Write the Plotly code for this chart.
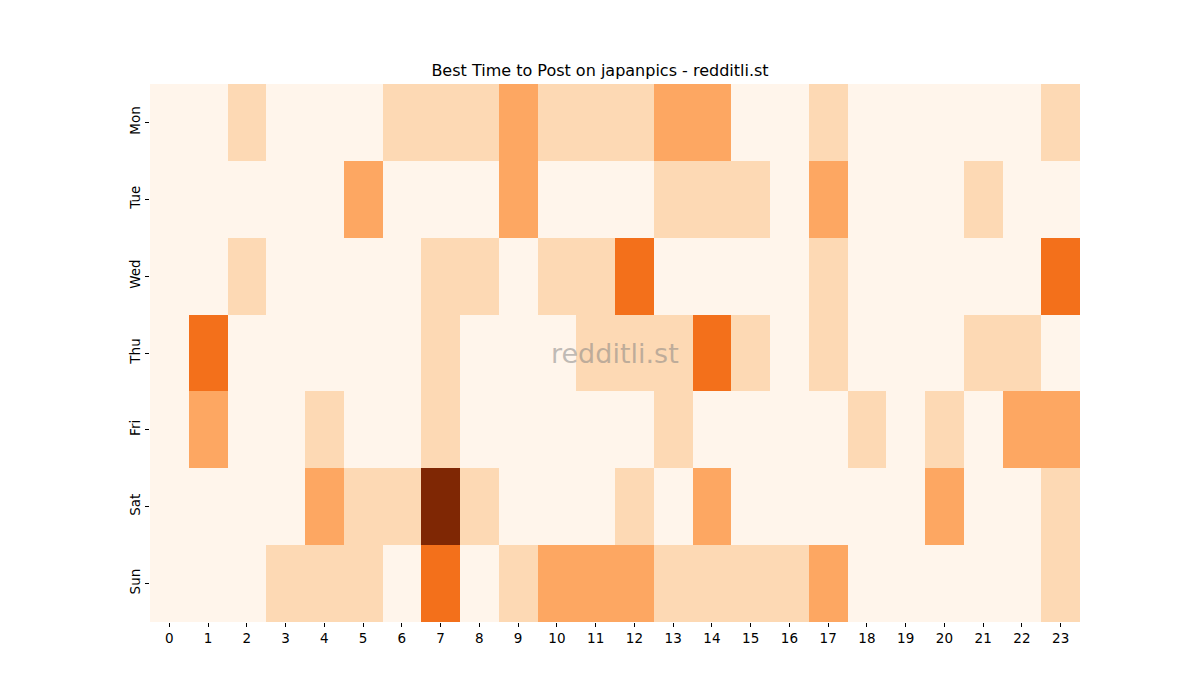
import plotly.graph_objects as go

days = ["Mon", "Tue", "Wed", "Thu", "Fri", "Sat", "Sun"]
hours = [str(h) for h in range(24)]

mon = [0,0,1,0,0,0,1,1,1,2,1,1,1,2,2,0,0,1,0,0,0,0,0,1]
tue = [0,0,0,0,0,2,0,0,0,2,0,0,0,1,1,1,0,2,0,0,0,1,0,0]
wed = [0,0,1,0,0,0,0,1,1,0,1,1,3,0,0,0,0,1,0,0,0,0,0,3]
thu = [0,3,0,0,0,0,0,1,0,0,0,1,1,1,3,1,0,1,0,0,0,1,1,0]
fri = [0,2,0,0,1,0,0,1,0,0,0,0,0,1,0,0,0,0,1,0,1,0,2,2]
sat = [0,0,0,0,2,1,1,5,1,0,0,0,1,0,2,0,0,0,0,0,2,0,0,1]
sun = [0,0,0,1,1,1,0,3,0,1,2,2,2,1,1,1,1,2,0,0,0,0,0,1]

z = [mon, tue, wed, thu, fri, sat, sun]

oranges = ["#fff5eb", "#fee6ce", "#fdd0a2", "#fdae6b", "#fd8d3c",
           "#f16913", "#d94801", "#a63603", "#7f2704"]
cs = [[i / 8, c] for i, c in enumerate(oranges)]

fig = go.Figure(go.Heatmap(
    z=z, x=list(range(24)), y=days,
    colorscale=cs, zmin=0, zmax=5, showscale=False, xgap=0, ygap=0,
))

fig.update_layout(
    width=1200, height=700,
    margin=dict(l=150, r=120, t=84, b=78),
    paper_bgcolor="white", plot_bgcolor="white",
    title=dict(text="Best Time to Post on japanpics - redditli.st",
               x=0.5, xanchor="center", y=1 - 70 / 700, yanchor="middle",
               font=dict(family="DejaVu Sans", size=16, color="black")),
    font=dict(family="DejaVu Sans", size=13.5, color="black"),
    annotations=[dict(text="redditli.st", x=0.5, y=0.5, xref="paper", yref="paper",
                      showarrow=False,
                      font=dict(family="DejaVu Sans", size=27, color="rgba(128,128,128,0.5)"))],
)
fig.update_xaxes(tickmode="array", tickvals=list(range(24)), ticktext=hours,
                 ticks="outside", ticklen=4, tickcolor="black", showgrid=False,
                 zeroline=False, showline=False, range=[-0.5, 23.5])
fig.update_yaxes(autorange="reversed", ticks="outside", ticklen=4, tickcolor="black",
                 tickangle=-90, showgrid=False, zeroline=False, showline=False)

fig.write_html("out.html")
